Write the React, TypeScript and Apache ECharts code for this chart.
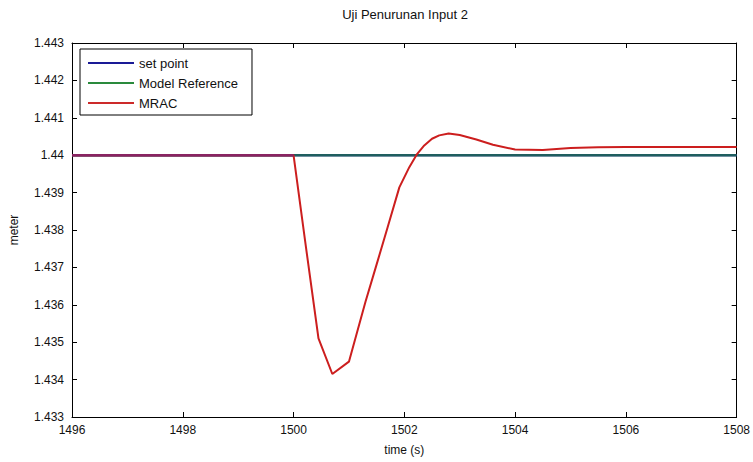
import React, { useEffect, useRef } from "react";
import * as echarts from "echarts";

const chartTitle = "Uji Penurunan Input 2";
const xAxisName = "time (s)";
const yAxisName = "meter";
const seriesNames = ["set point", "Model Reference", "MRAC"];

const setPointTime = [1496, 1508];
const setPointValue = [1.44, 1.44];

const modelRefTime = [1496, 1508];
const modelRefValue = [1.44, 1.44];

const mracTime = [
  1496, 1500, 1500.2, 1500.45, 1500.7, 1501.0, 1501.3, 1501.5, 1501.7, 1501.91,
  1502.09, 1502.23, 1502.36, 1502.5, 1502.63, 1502.8, 1503.0, 1503.3, 1503.6,
  1504.0, 1504.5, 1505.0, 1505.5, 1506.0, 1507.0, 1508.0,
];
const mracValue = [
  1.44, 1.44, 1.4378, 1.4351, 1.43415, 1.43448, 1.43609, 1.43708, 1.43808,
  1.43914, 1.43968, 1.44003, 1.44026, 1.44044, 1.44053, 1.44058, 1.44054,
  1.44042, 1.44028, 1.44015, 1.44014, 1.44019, 1.44021, 1.44022, 1.44022,
  1.44022,
];

const stepTime = 1500;

const xMin = 1496;
const xMax = 1508;
const xStep = 2;
const yMin = 1.433;
const yMax = 1.443;
const yStep = 0.001;

const toPairs = (t: number[], v: number[]) => t.map((x, i) => [x, v[i]]);

const font = "Liberation Sans, Arial, Helvetica, sans-serif";

export default function App() {
  const ref = useRef<HTMLDivElement>(null);

  useEffect(() => {
    if (!ref.current) return;
    const chart = echarts.init(ref.current, null, { renderer: "svg" });

    const yFmt = (v: number) => String(parseFloat(v.toFixed(3)));
    const xFmt = (v: number) => String(Math.round(v));
    const tickCommon = { show: true, inside: true, length: 5, lineStyle: { color: "#000", width: 1 } };
    const lineCommon = { show: true, lineStyle: { color: "#000", width: 1 } };
    const labelCommon = { color: "#111", fontFamily: font, fontSize: 12 };

    const mracPairs = toPairs(mracTime, mracValue);
    const mracBefore = mracPairs.filter((p) => p[0] <= stepTime);

    chart.setOption({
      animation: false,
      backgroundColor: "#fff",
      grid: { left: 69, right: 13, top: 43, bottom: 45, containLabel: false },
      graphic: [
        {
          type: "text",
          x: 405,
          y: 14,
          style: {
            text: chartTitle,
            align: "center",
            verticalAlign: "middle",
            fontFamily: font,
            fontSize: 13,
            fill: "#111",
          },
        },
      ],
      legend: {
        orient: "vertical",
        left: 80,
        top: 49,
        padding: [7, 14, 5, 8],
        itemGap: 6,
        itemWidth: 46,
        itemHeight: 2,
        icon: "rect",
        borderColor: "#000",
        borderWidth: 1,
        backgroundColor: "#fff",
        textStyle: { fontFamily: font, fontSize: 13, color: "#111", lineHeight: 14 },
        data: [
          { name: seriesNames[0], itemStyle: { color: "#1a1a96", opacity: 1 } },
          { name: seriesNames[1], itemStyle: { color: "#2a8a3c", opacity: 1 } },
          { name: seriesNames[2], itemStyle: { color: "#cc2a2a", opacity: 1 } },
        ],
      },
      xAxis: [
        {
          type: "value",
          min: xMin,
          max: xMax,
          interval: xStep,
          name: xAxisName,
          nameLocation: "middle",
          nameGap: 27,
          nameTextStyle: { fontFamily: font, fontSize: 12, color: "#111" },
          axisLine: lineCommon,
          axisTick: tickCommon,
          axisLabel: { ...labelCommon, margin: 7, formatter: xFmt },
          splitLine: { show: false },
        },
        {
          type: "value",
          position: "top",
          min: xMin,
          max: xMax,
          interval: xStep,
          axisLine: lineCommon,
          axisTick: tickCommon,
          axisLabel: { show: false },
          splitLine: { show: false },
        },
      ],
      yAxis: [
        {
          type: "value",
          min: yMin,
          max: yMax,
          interval: yStep,
          name: yAxisName,
          nameLocation: "middle",
          nameGap: 52,
          nameRotate: 90,
          nameTextStyle: { fontFamily: font, fontSize: 12, color: "#111" },
          axisLine: lineCommon,
          axisTick: tickCommon,
          axisLabel: { ...labelCommon, margin: 8, formatter: yFmt },
          splitLine: { show: false },
        },
        {
          type: "value",
          position: "right",
          min: yMin,
          max: yMax,
          interval: yStep,
          axisLine: lineCommon,
          axisTick: tickCommon,
          axisLabel: { show: false },
          splitLine: { show: false },
        },
      ],
      series: [
        {
          name: seriesNames[0],
          type: "line",
          data: toPairs(setPointTime, setPointValue),
          showSymbol: false,
          lineStyle: { color: "#1a1a96", width: 2 },
          itemStyle: { color: "#1a1a96" },
        },
        {
          name: seriesNames[1],
          type: "line",
          data: toPairs(modelRefTime, modelRefValue),
          showSymbol: false,
          lineStyle: { color: "#1f5e5f", width: 2.5 },
          itemStyle: { color: "#2a8a3c" },
        },
        {
          name: seriesNames[2],
          type: "line",
          data: mracPairs,
          showSymbol: false,
          lineStyle: { color: "#cc1e1e", width: 2 },
          itemStyle: { color: "#cc2a2a" },
        },
        {
          name: seriesNames[2],
          type: "line",
          data: mracBefore,
          showSymbol: false,
          lineStyle: { color: "#8a2462", width: 2.5 },
          itemStyle: { color: "#cc2a2a" },
        },
      ],
    });

    return () => chart.dispose();
  }, []);

  return (
    <div
      ref={ref}
      style={{ position: "fixed", left: 0, top: 0, width: 753, height: 462, background: "#fff" }}
    />
  );
}
